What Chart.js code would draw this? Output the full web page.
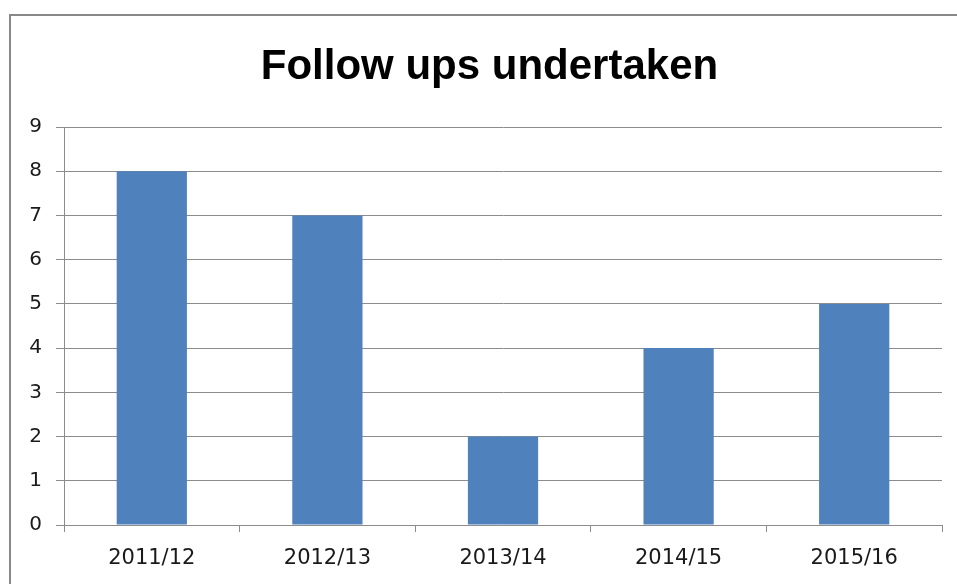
<!DOCTYPE html>
<html lang="en">
<head>
    <meta charset="UTF-8">
    <title>Follow ups undertaken</title>
    <script src="https://cdn.jsdelivr.net/npm/chart.js"></script>
    <style>
        html, body {
            margin: 0;
            padding: 0;
            background: #ffffff;
            overflow: hidden;
        }
        .wrap {
            position: relative;
            width: 957px;
            height: 584px;
        }
        /* chart frame, runs off the right and bottom edge */
        .frame {
            position: absolute;
            left: 9px;
            top: 14px;
            width: 1100px;
            height: 800px;
            border: 2px solid #888888;
            pointer-events: none;
        }
        .title {
            position: absolute;
            left: 0;
            top: 38px;
            width: 979px;
            text-align: center;
            font-family: 'Liberation Sans', Arial, sans-serif;
            font-weight: bold;
            font-size: 42px;
            line-height: 54px;
            color: #000000;
        }
    </style>
</head>
<body>
    <div class="wrap">
        <canvas id="chart" width="957" height="584"></canvas>
        <div class="frame"></div>
        <div class="title">Follow ups undertaken</div>
    </div>

    <script>
        // Data
        const years = ['2011/12', '2012/13', '2013/14', '2014/15', '2015/16'];
        const followUps = [8, 7, 2, 4, 5];
        const yTicks = [0, 1, 2, 3, 4, 5, 6, 7, 8, 9];

        const fontFamily = "'DejaVu Sans', sans-serif";
        const gridColor = '#8c8c8c';

        new Chart(document.getElementById('chart'), {
            type: 'bar',
            data: {
                labels: years,
                datasets: [{
                    label: 'Follow ups',
                    data: followUps,
                    backgroundColor: '#4F81BD',
                    borderWidth: 0,
                    barPercentage: 0.4,
                    categoryPercentage: 1.0
                }]
            },
            options: {
                responsive: false,
                animation: false,
                devicePixelRatio: 1,
                layout: {
                    padding: { left: 0, right: 15, top: 127, bottom: 0 }
                },
                plugins: {
                    legend: { display: false },
                    tooltip: { enabled: false },
                    title: { display: false }
                },
                scales: {
                    x: {
                        grid: {
                            display: true,
                            drawOnChartArea: false,
                            drawTicks: true,
                            tickLength: 7,
                            color: gridColor
                        },
                        border: { display: true, color: gridColor, width: 1 },
                        ticks: {
                            color: '#1a1a1a',
                            font: { family: fontFamily, size: 21 },
                            padding: 14
                        },
                        afterFit: (scale) => { scale.height = 59; }
                    },
                    y: {
                        min: yTicks[0],
                        max: yTicks[yTicks.length - 1],
                        afterBuildTicks: (scale) => {
                            scale.ticks = yTicks.map(v => ({ value: v }));
                        },
                        grid: {
                            color: gridColor,
                            lineWidth: 1,
                            drawTicks: true,
                            tickLength: 8
                        },
                        border: { display: true, color: gridColor, width: 1 },
                        ticks: {
                            color: '#1a1a1a',
                            font: { family: fontFamily, size: 20 },
                            padding: 14
                        },
                        afterFit: (scale) => { scale.width = 64; }
                    }
                }
            }
        });
    </script>
</body>
</html>
